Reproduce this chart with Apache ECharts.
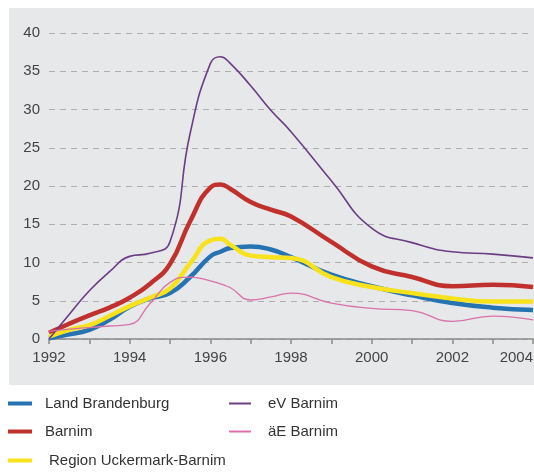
<!DOCTYPE html>
<html>
<head>
<meta charset="utf-8">
<script src="https://cdn.jsdelivr.net/npm/echarts@6/dist/echarts.min.js"></script>
<style>html,body{margin:0;padding:0;background:#fff;}#c{width:534px;height:472px;}</style>
</head>
<body>
<div id="c"></div>
<script>
var years = [1992,1992.5,1993,1993.5,1994,1994.5,1995,1995.5,1996,1996.25,1996.5,1997,1997.5,1998,1999,2000,2001,2002,2003,2004];
var landBrandenburg = [0.1,0.6,1.2,2.5,4.2,5.3,6.0,8.1,10.8,11.4,11.9,12.1,11.7,10.7,8.4,6.9,5.7,4.7,4.1,3.8];
var barnim = [0.8,2.0,3.1,4.1,5.4,7.2,9.8,15.4,19.8,20.2,19.6,17.9,16.9,16.0,12.7,9.5,8.1,6.9,7.1,6.8];
var regionUB = [0.3,1.2,1.8,3.0,4.3,5.4,6.6,9.9,12.9,13.1,12.3,10.9,10.7,10.6,8.1,6.8,6.0,5.3,4.9,4.9];
var evBarnim = [0.0,3.2,6.3,8.8,10.8,11.2,12.7,26.9,36.0,36.9,36.0,33.1,29.9,27.1,20.7,14.5,12.6,11.4,11.1,10.6];
var aeBarnim = [1.0,1.3,1.5,1.7,1.9,4.6,7.4,8.1,7.6,7.2,6.7,5.1,5.5,6.0,4.7,4.0,3.7,2.3,3.0,2.5];
var yTicks = [0,5,10,15,20,25,30,35,40];
var xLabelYears = [1992,1994,1996,1998,2000,2002,2004];

function pairs(vals){ return years.map(function(y,i){ return [y, vals[i]]; }); }

var names = ['Land Brandenburg','Barnim','Region Uckermark-Barnim','eV Barnim','äE Barnim'];
var colors = ['#2673b2','#c0302c','#f8e21c','#6a3d84','#d972aa'];
var widths = [4.5,4.5,4.5,1.6,1.3];
var datas = [landBrandenburg, barnim, regionUB, evBarnim, aeBarnim];

var series = names.map(function(n,i){
  return {
    name:n, type:'line', smooth:0.5, symbol:'none',
    data: pairs(datas[i]),
    lineStyle:{color:colors[i], width:widths[i]},
    itemStyle:{color:colors[i]},
    z: 2+i
  };
});

var legendPos = [
  {left:8, top:396, w:24, h:4, pad:8},
  {left:8, top:424, w:24, h:4, pad:8},
  {left:8, top:453, w:24, h:4, pad:12},
  {left:229, top:396, w:22, h:2, pad:12},
  {left:229, top:424, w:22, h:2, pad:12}
];
var legends = legendPos.map(function(p,i){
  return {
    data:[{name:names[i], icon:'rect'}],
    left:p.left, top:p.top, itemWidth:p.w, itemHeight:p.h, padding:0,
    selectedMode:false,
    textStyle:{fontFamily:'Liberation Sans', fontSize:15, color:'#333', padding:[0,0,0,p.pad]}
  };
});

var chart = echarts.init(document.getElementById('c'));
chart.setOption({
  backgroundColor:'#ffffff',
  animation:false,
  graphic:{elements:[{type:'rect', shape:{x:9,y:8,width:525,height:377}, style:{fill:'#e7e8e9'}, z:-10, silent:true}]},
  grid:{left:49, right:1, top:33, bottom:133, containLabel:false, outerBoundsMode:'none'},
  legend: legends,
  xAxis:{
    type:'value', min:1992, max:2004, interval:1,
    axisLine:{show:true, lineStyle:{color:'#8a8a8a', width:1.5}},
    axisTick:{show:true, length:5, lineStyle:{color:'#8a8a8a', width:1.5}},
    splitLine:{show:false},
    axisLabel:{
      margin:11, fontFamily:'Liberation Sans', fontSize:15, color:'#444',
      alignMaxLabel:'right',
      formatter:function(v){ return xLabelYears.indexOf(v) >= 0 ? String(v) : ''; }
    }
  },
  yAxis:{
    type:'value', min:yTicks[0], max:yTicks[yTicks.length-1], interval:5,
    axisLine:{show:false}, axisTick:{show:false},
    splitLine:{show:true, lineStyle:{color:'#aeaeae', type:[6,5], width:1}},
    axisLabel:{margin:9, fontFamily:'Liberation Sans', fontSize:15, color:'#444'}
  },
  series: series
});
</script>
</body>
</html>
